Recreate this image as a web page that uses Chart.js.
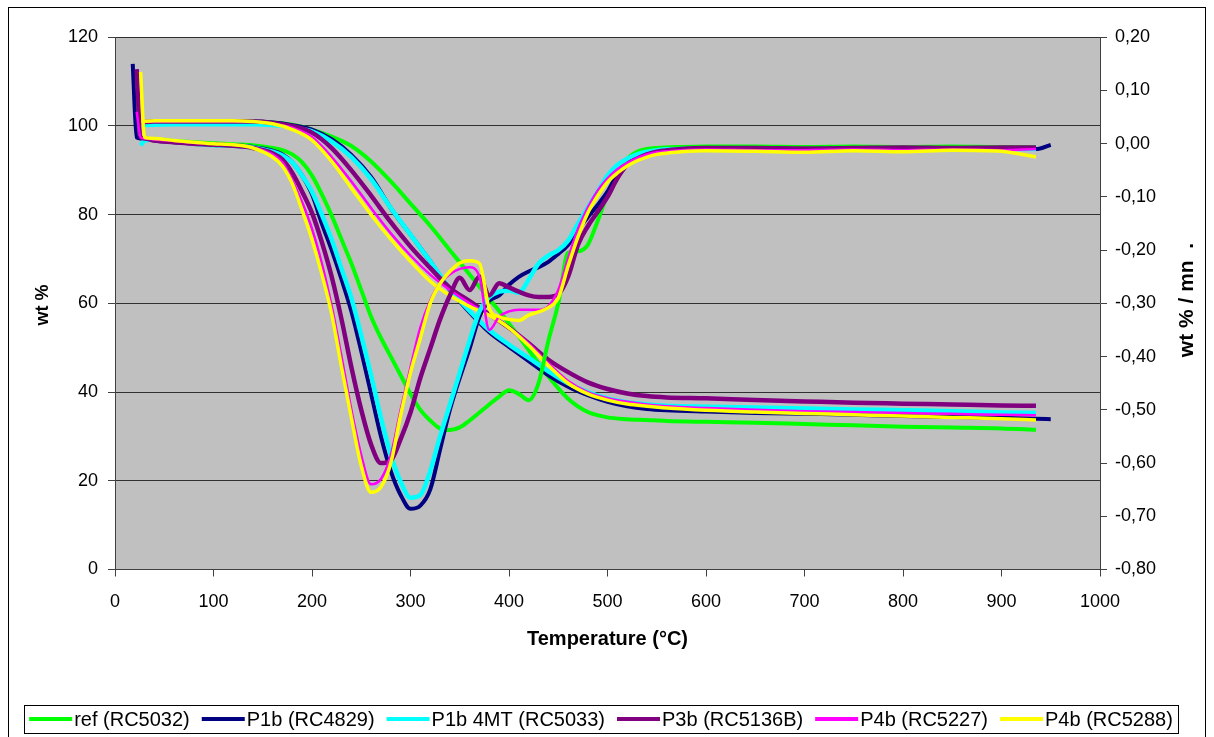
<!DOCTYPE html>
<html><head><meta charset="utf-8">
<script src="https://cdn.jsdelivr.net/npm/chart.js@4.4.0/dist/chart.umd.min.js"></script>
<style>html,body{margin:0;padding:0;background:#fff;}canvas{display:block;}</style>
</head><body>
<canvas id="c" width="1214" height="737"></canvas>
<script>
// ---------- DATA ----------
const seriesNames = ['ref (RC5032)', 'P1b (RC4829)', 'P1b 4MT (RC5033)', 'P3b (RC5136B)', 'P4b (RC5227)', 'P4b (RC5288)'];
const seriesColors = ['#00FF00', '#000080', '#00FFFF', '#800080', '#FF00FF', '#FFFF00'];

// Temperature (°C) grid for the weight-loss (TG) curves, left axis (wt %)
const tgTemp = [25, 40, 60, 80, 100, 120, 140,
  160, 180, 200, 220, 240, 260, 280, 300, 320, 340, 360, 380, 400, 420, 440, 460, 480, 500, 520, 540, 560,
  600, 650, 700, 750, 800, 850, 900, 935, 950];

const tgRef = [100.8, 100.9, 101, 101, 101, 101, 101,
  100.8, 100.3, 99.2, 97.6, 95.5, 92, 87.5, 82.5, 77.5, 72, 66.5, 61, 55.5, 49.5, 43.5, 38.5, 35.5, 34.3, 33.9, 33.7, 33.5,
  33.3, 33.1, 32.8, 32.5, 32.2, 32, 31.8, 31.5, null];
const tgP1b = [100.8, 101, 101, 101, 101, 101, 101,
  100.8, 100.2, 99.2, 97, 93.5, 88.5, 81.5, 75.5, 69.5, 63, 58, 53.5, 50.2, 47, 43.8, 41.2, 39.3, 37.8, 36.8, 36.2, 35.9,
  35.6, 35.3, 35.1, 34.9, 34.6, 34.4, 34.2, 34.0, 33.9];
const tgP1b4MT = [100.2, 100.3, 100.4, 100.4, 100.4, 100.4, 100.4,
  100.2, 99.7, 98.8, 96.5, 93, 88, 81.5, 75.5, 69.5, 63.3, 58.3, 54, 50.7, 47.7, 44.7, 42, 40, 38.6, 37.7, 37.2, 36.9,
  36.7, 36.5, 36.3, 36.1, 35.9, 35.7, 35.4, 35.3, null];
const tgP3b = [100.8, 101, 101, 101, 101, 101, 101,
  100.7, 100, 98.5, 95, 90, 84.3, 78.3, 72.8, 68, 63.5, 60.5, 57.5, 54.5, 51, 47.3, 44.5, 42.2, 40.7, 39.7, 39.1, 38.8,
  38.6, 38.2, 37.9, 37.6, 37.4, 37.2, 37, 36.9, null];
const tgP4b5227 = [100.8, 101, 101, 101, 101, 101, 101,
  100.5, 99.6, 97.5, 93, 87.5, 81.5, 75.8, 70.8, 66.5, 63, 60, 57.3, 54.5, 51, 46.5, 42.5, 40, 38.6, 37.8, 37.2, 36.8,
  36.4, 36, 35.7, 35.5, 35.3, 35.1, 34.9, 34.8, null];
const tgP4b5288 = [101, 101.2, 101.2, 101.2, 101.2, 101.2, 101,
  100.5, 99.2, 96.8, 92, 86, 80, 74.5, 69.5, 65, 61.8, 59.3, 57.3, 54.5, 50.5, 46, 42, 39.6, 38.2, 37.3, 36.8, 36.4,
  35.9, 35.5, 35.2, 34.9, 34.6, 34.3, 34, 33.7, null];

// Temperature (°C) grid for the derivative (DTG) curves, right axis (wt % / mn)
const dtgTemp = [18, 22, 26, 30, 40, 60, 80, 100, 120, 140,
  160,
  170, 180, 190, 200, 210, 220, 230, 240, 250, 260, 270, 280, 290, 300, 310, 320, 330, 340, 350, 360,
  370, 380, 390, 400, 410, 420, 430, 440, 450, 460, 470, 480, 490, 500, 510, 520, 530, 540, 550,
  575, 600, 650, 700, 750, 800, 850, 900,
  935, 950];

const dtgRef = [null, 0.012, 0.011, 0.01, 0.008, 0.005, 0.003, 0.001, -0.001, -0.003,
  -0.008,
  -0.012, -0.02, -0.035, -0.06, -0.095, -0.135, -0.18, -0.225, -0.275, -0.325, -0.365, -0.4, -0.435, -0.47, -0.5, -0.52, -0.535, -0.538, -0.533, -0.52,
  -0.505, -0.49, -0.475, -0.463, -0.47, -0.482, -0.45, -0.37, -0.3, -0.205, -0.202, -0.19, -0.145, -0.095, -0.055, -0.028, -0.015, -0.01, -0.008,
  -0.006, -0.005, -0.005, -0.006, -0.005, -0.006, -0.005, -0.006,
  -0.006, null];
const dtgP1b = [0.15, 0.012, 0.01, 0.009, 0.006, 0.003, 0.001, -0.001, -0.003, -0.006,
  -0.013,
  -0.02, -0.035, -0.06, -0.095, -0.15, -0.2, -0.255, -0.315, -0.39, -0.47, -0.55, -0.615, -0.66, -0.686, -0.68, -0.65, -0.575, -0.5, -0.44, -0.385,
  -0.325, -0.295, -0.285, -0.265, -0.25, -0.24, -0.232, -0.222, -0.207, -0.19, -0.162, -0.138, -0.115, -0.09, -0.058, -0.038, -0.025, -0.018, -0.014,
  -0.01, -0.009, -0.009, -0.01, -0.009, -0.01, -0.009, -0.01,
  -0.01, -0.002];
const dtgP1b4MT = [null, null, -0.003, 0.006, 0.008, 0.004, 0.0, -0.003, -0.004, -0.007,
  -0.015,
  -0.022, -0.035, -0.06, -0.09, -0.133, -0.18, -0.235, -0.29, -0.36, -0.435, -0.515, -0.585, -0.635, -0.665, -0.66, -0.615, -0.55, -0.49, -0.43, -0.37,
  -0.315, -0.288, -0.278, -0.276, -0.28, -0.255, -0.225, -0.21, -0.2, -0.182, -0.15, -0.12, -0.09, -0.06, -0.04, -0.028, -0.02, -0.015, -0.012,
  -0.01, -0.01, -0.01, -0.011, -0.01, -0.01, -0.01, -0.01,
  -0.01, null];
const dtgP3b = [null, 0.14, 0.012, 0.01, 0.006, 0.003, 0.0, -0.002, -0.004, -0.008,
  -0.018,
  -0.03, -0.055, -0.09, -0.13, -0.185, -0.25, -0.33, -0.42, -0.5, -0.565, -0.6, -0.595, -0.555, -0.505, -0.44, -0.385, -0.33, -0.285, -0.252, -0.275,
  -0.25, -0.285, -0.262, -0.27, -0.278, -0.285, -0.288, -0.288, -0.283, -0.25, -0.19, -0.155, -0.128, -0.1, -0.065, -0.04, -0.028, -0.02, -0.015,
  -0.01, -0.008, -0.008, -0.009, -0.008, -0.007, -0.008, -0.007,
  -0.007, null];
const dtgP4b5227 = [null, 0.06, 0.012, 0.01, 0.008, 0.005, 0.002, 0.0, -0.002, -0.007,
  -0.02,
  -0.035, -0.068, -0.11, -0.16, -0.225, -0.305, -0.4, -0.5, -0.585, -0.64, -0.63, -0.585, -0.5, -0.42, -0.345, -0.295, -0.262, -0.245, -0.235, -0.232,
  -0.25, -0.35, -0.325, -0.315, -0.312, -0.312, -0.312, -0.305, -0.275, -0.215, -0.16, -0.12, -0.088, -0.065, -0.048, -0.036, -0.027, -0.02, -0.016,
  -0.012, -0.011, -0.012, -0.012, -0.011, -0.012, -0.011, -0.012,
  -0.01, null];
const dtgP4b5288 = [null, null, 0.135, 0.012, 0.01, 0.006, 0.003, 0.0, -0.002, -0.008,
  -0.025,
  -0.042, -0.075, -0.125, -0.18, -0.245, -0.32, -0.42, -0.515, -0.605, -0.655, -0.645, -0.6, -0.51, -0.43, -0.365, -0.3, -0.263, -0.24, -0.224, -0.22,
  -0.225, -0.31, -0.325, -0.33, -0.332, -0.322, -0.316, -0.308, -0.29, -0.23, -0.175, -0.13, -0.098, -0.072, -0.055, -0.042, -0.032, -0.025, -0.02,
  -0.015, -0.013, -0.014, -0.016, -0.013, -0.015, -0.012, -0.014,
  -0.025, null];

const xTicksMin = 0, xTicksMax = 1000, xStep = 100;
const yTicksMin = 0, yTicksMax = 120, yStep = 20;
const y2TicksMin = -0.8, y2TicksMax = 0.2, y2Step = 0.1;

const xTitle = 'Temperature (°C)';
const yTitle = 'wt %';
const y2Title = 'wt % / mn  .';

// ---------- BUILD ----------
const tgSeries = [tgRef, tgP1b, tgP1b4MT, tgP3b, tgP4b5227, tgP4b5288];
const dtgSeries = [dtgRef, dtgP1b, dtgP1b4MT, dtgP3b, dtgP4b5227, dtgP4b5288];
const lineWidths = [4, 4, 4.5, 4.5, 2.5, 3.5];
const toPts = (xs, ys) => xs.map((x, i) => ({x: x, y: ys[i]})).filter(p => p.y !== null);

const datasets = [];
tgSeries.forEach((ys, i) => datasets.push({
  label: seriesNames[i], data: toPts(tgTemp, ys), yAxisID: 'y',
  borderColor: seriesColors[i], backgroundColor: seriesColors[i], borderWidth: lineWidths[i],
  pointRadius: 0, fill: false, cubicInterpolationMode: 'monotone', order: 100 - i
}));
dtgSeries.forEach((ys, i) => datasets.push({
  label: seriesNames[i] + ' dtg', data: toPts(dtgTemp, ys), yAxisID: 'y2',
  borderColor: seriesColors[i], backgroundColor: seriesColors[i], borderWidth: lineWidths[i],
  pointRadius: 0, fill: false, cubicInterpolationMode: 'monotone', order: 94 - i
}));

const FONT = '"Liberation Sans", Arial, sans-serif';
const W = 1214, H = 737;
const PLOT = {left: 115, right: 1100, top: 37.3, bottom: 569.5};

const decor = {
  id: 'decor',
  beforeDraw(chart) {
    const c = chart.ctx, a = chart.chartArea;
    c.save();
    c.fillStyle = '#fff'; c.fillRect(0, 0, W, H);
    c.fillStyle = '#C0C0C0'; c.fillRect(a.left, a.top, a.right - a.left, a.bottom - a.top);
    c.restore();
  },
  afterDraw(chart) {
    const c = chart.ctx, a = chart.chartArea;
    c.save();
    // outer frame
    c.strokeStyle = '#000'; c.lineWidth = 1;
    c.strokeRect(8.5, 7.5, 1197, 760);
    // axis titles
    c.fillStyle = '#000';
    c.textAlign = 'center'; c.textBaseline = 'middle';
    c.font = 'bold 20px ' + FONT;
    c.fillText(xTitle, (a.left + a.right) / 2, 639);
    c.font = 'bold 18px ' + FONT;
    c.save(); c.translate(43, 305); c.rotate(-Math.PI / 2); c.fillText(yTitle, 0, 0); c.restore();
    c.font = 'bold 21px ' + FONT;
    c.save(); c.translate(1187, 300); c.rotate(-Math.PI / 2); c.fillText(y2Title, 0, 0); c.restore();
    // legend
    const boxL = 24, boxR = 1178, boxT = 705, boxB = 733;
    c.fillStyle = '#fff'; c.fillRect(boxL, boxT, boxR - boxL, boxB - boxT);
    c.strokeStyle = '#000'; c.lineWidth = 1;
    c.strokeRect(boxL + 0.5, boxT + 0.5, boxR - boxL, boxB - boxT);
    c.font = '20px ' + FONT; c.textAlign = 'left'; c.textBaseline = 'middle';
    const sample = 43, gapT = 2, gapI = 12;
    const widths = seriesNames.map(n => c.measureText(n).width);
    const total = widths.reduce((s, w) => s + w + sample + gapT, 0) + gapI * (seriesNames.length - 1);
    let x = (boxL + boxR) / 2 - total / 2;
    const yc = (boxT + boxB) / 2;
    seriesNames.forEach((n, i) => {
      c.strokeStyle = seriesColors[i]; c.lineWidth = 4;
      c.beginPath(); c.moveTo(x, yc); c.lineTo(x + sample, yc); c.stroke();
      x += sample + gapT;
      c.fillStyle = '#000'; c.fillText(n, x, yc + 1);
      x += widths[i] + gapI;
    });
    c.restore();
  }
};

const fmt2 = v => (Math.abs(v) < 1e-9 ? 0 : v).toFixed(2).replace('.', ',');

new Chart(document.getElementById('c'), {
  type: 'line',
  data: {datasets: datasets},
  options: {
    responsive: false, animation: false, devicePixelRatio: 1,
    layout: {padding: {top: PLOT.top, left: 0, right: 0, bottom: 0}},
    plugins: {legend: {display: false}, tooltip: {enabled: false}},
    scales: {
      x: {
        type: 'linear', position: 'bottom', min: xTicksMin, max: xTicksMax,
        ticks: {stepSize: xStep, color: '#000', font: {family: FONT, size: 18}, padding: 15, maxRotation: 0, autoSkip: false,
                callback: v => String(v)},
        grid: {drawOnChartArea: false, drawTicks: true, tickLength: 7, tickColor: '#404040'},
        border: {display: true, color: '#404040', width: 1},
        afterFit(s) { s.height = H - PLOT.bottom; }
      },
      y: {
        type: 'linear', position: 'left', min: yTicksMin, max: yTicksMax,
        ticks: {stepSize: yStep, color: '#000', font: {family: FONT, size: 18}, padding: 10},
        grid: {color: '#303030', lineWidth: 1, drawTicks: true, tickLength: 7, tickColor: '#404040'},
        border: {display: true, color: '#404040', width: 1},
        afterFit(s) { s.width = PLOT.left; }
      },
      y2: {
        type: 'linear', position: 'right', min: y2TicksMin, max: y2TicksMax,
        ticks: {stepSize: y2Step, color: '#000', font: {family: FONT, size: 18}, padding: 8, callback: v => fmt2(v)},
        grid: {drawOnChartArea: false, drawTicks: true, tickLength: 7, tickColor: '#404040'},
        border: {display: true, color: '#404040', width: 1},
        afterFit(s) { s.width = W - PLOT.right; }
      }
    }
  },
  plugins: [decor]
});
</script>
</body></html>
